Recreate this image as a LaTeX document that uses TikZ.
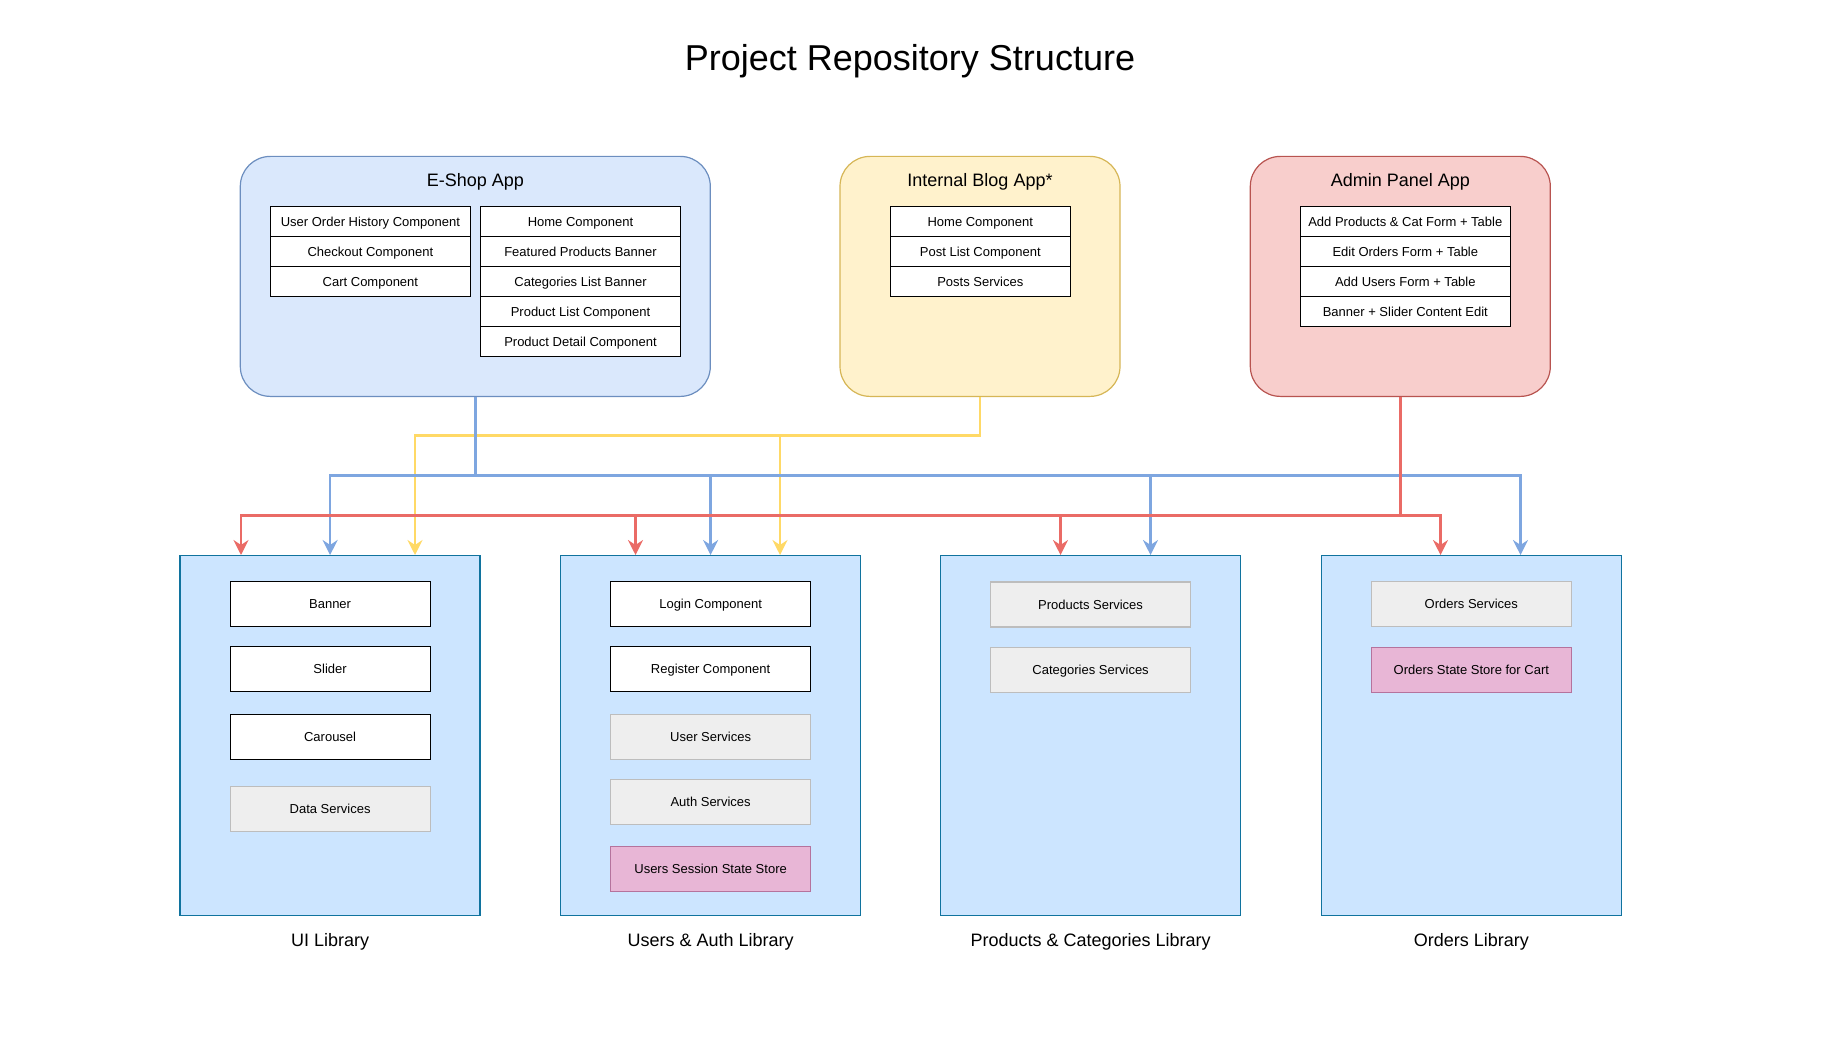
\documentclass[tikz,border=0pt]{standalone}
\usepackage{fontspec}
\setmainfont{Liberation Sans}
\usetikzlibrary{arrows.meta}
\begin{document}
\definecolor{eshopfill}{HTML}{DAE8FC}
\definecolor{eshopstroke}{HTML}{6C8EBF}
\definecolor{blogfill}{HTML}{FFF2CC}
\definecolor{blogstroke}{HTML}{D6B656}
\definecolor{adminfill}{HTML}{F8CECC}
\definecolor{adminstroke}{HTML}{B85450}
\definecolor{libfill}{HTML}{CCE5FF}
\definecolor{libstroke}{HTML}{10739E}
\definecolor{svcfill}{HTML}{EEEEEE}
\definecolor{svcstroke}{HTML}{BDBDBD}
\definecolor{storefill}{HTML}{E8B6D6}
\definecolor{storestroke}{HTML}{B5739D}
\definecolor{lineblue}{HTML}{7EA6E0}
\definecolor{lineyellow}{HTML}{FFD966}
\definecolor{linered}{HTML}{EA6B66}
\tikzset{
  appbox/.style={draw, line width=1.2pt, rounded corners=30pt, inner sep=0pt, minimum height=240pt},
  apptitle/.style={inner sep=0pt, font=\fontsize{18}{21}\selectfont},
  row/.style={draw=black, fill=white, line width=1.2pt, minimum height=30pt, inner sep=0pt, text height=10.6pt, text depth=1.5pt, font=\fontsize{13}{15}\selectfont},
  libbox/.style={draw=libstroke, fill=libfill, line width=1.4pt, minimum width=300pt, minimum height=360pt, inner sep=0pt},
  comp/.style={draw=black, fill=white, line width=1.1pt, minimum width=200pt, minimum height=45pt, inner sep=0pt, text height=10.6pt, text depth=1.5pt, font=\fontsize{13}{15}\selectfont},
  svc/.style={comp, draw=svcstroke, fill=svcfill},
  store/.style={comp, draw=storestroke, fill=storefill},
  liblabel/.style={inner sep=0pt, font=\fontsize{18}{21}\selectfont},
  conn/.style={line width=2.5pt, line join=miter, -{Stealth[length=15pt,width=15pt,inset=5pt]}},
}
\begin{tikzpicture}[x=1pt,y=-1pt]
\useasboundingbox (0,0) rectangle (1841,1043);
% title
\node[inner sep=0pt, font=\fontsize{36}{42}\selectfont] (title) at (910,61) {Project Repository Structure};

% app boxes
\node[appbox, draw=eshopstroke, fill=eshopfill, minimum width=470pt] (eshop) at (475.3,276.4) {};
\node[appbox, draw=blogstroke, fill=blogfill, minimum width=280pt] (blog) at (980,276.4) {};
\node[appbox, draw=adminstroke, fill=adminfill, minimum width=300pt] (admin) at (1400.3,276.4) {};
\node[apptitle] (eshopt) at (475.3,182.3) {E-Shop App};
\node[apptitle] (blogt) at (980,182.3) {Internal Blog App*};
\node[apptitle] (admint) at (1400.3,182.3) {Admin Panel App};

% E-Shop tables
\begin{scope}[row/.append style={minimum width=200.4pt}]
\node[row] (e1) at (370.4,221.7) {User Order History Component};
\node[row] (e2) at (370.4,251.7) {Checkout Component};
\node[row] (e3) at (370.4,281.7) {Cart Component};
\node[row] (f1) at (580.5,221.7) {Home Component};
\node[row] (f2) at (580.5,251.7) {Featured Products Banner};
\node[row] (f3) at (580.5,281.7) {Categories List Banner};
\node[row] (f4) at (580.5,311.7) {Product List Component};
\node[row] (f5) at (580.5,341.7) {Product Detail Component};
\end{scope}
% Blog table
\begin{scope}[row/.append style={minimum width=180pt}]
\node[row] (b1) at (980.3,221.7) {Home Component};
\node[row] (b2) at (980.3,251.7) {Post List Component};
\node[row] (b3) at (980.3,281.7) {Posts Services};
\end{scope}
% Admin table
\begin{scope}[row/.append style={minimum width=210pt}]
\node[row] (a1) at (1405.3,221.7) {Add Products \& Cat Form + Table};
\node[row] (a2) at (1405.3,251.7) {Edit Orders Form + Table};
\node[row] (a3) at (1405.3,281.7) {Add Users Form + Table};
\node[row] (a4) at (1405.3,311.7) {Banner + Slider Content Edit};
\end{scope}

% libraries
\node[libbox] (uilib) at (330.1,735.7) {};
\node[libbox] (userlib) at (710.6,735.7) {};
\node[libbox] (prodlib) at (1090.6,735.7) {};
\node[libbox] (ordlib) at (1471.3,735.7) {};
\node[liblabel] (uilabel) at (330.1,942.3) {UI Library};
\node[liblabel] (userlabel) at (710.6,942.3) {Users \& Auth Library};
\node[liblabel] (prodlabel) at (1090.6,942.3) {Products \& Categories Library};
\node[liblabel] (ordlabel) at (1471.3,942.3) {Orders Library};

% UI library content
\node[comp] (banner) at (330.1,603.8) {Banner};
\node[comp] (slider) at (330.1,669.3) {Slider};
\node[comp] (carousel) at (330.1,737.3) {Carousel};
\node[svc] (datasvc) at (330.1,809.3) {Data Services};
% Users library content
\node[comp] (login) at (710.6,603.8) {Login Component};
\node[comp] (register) at (710.6,668.8) {Register Component};
\node[svc] (usersvc) at (710.6,736.8) {User Services};
\node[svc] (authsvc) at (710.6,802.3) {Auth Services};
\node[store] (session) at (710.6,868.8) {Users Session State Store};
% Products library content
\node[svc] (prodsvc) at (1090.6,604.5) {Products Services};
\node[svc] (catsvc) at (1090.6,670) {Categories Services};
% Orders library content
\node[svc] (ordsvc) at (1471.3,603.8) {Orders Services};
\node[store] (ordstore) at (1471.3,670) {Orders State Store for Cart};

% junction coordinates
\coordinate (y1) at (415,435.6);
\coordinate (y2) at (780,435.6);
\coordinate (bl1) at (330.1,475.5);
\coordinate (bl2) at (710.6,475.5);
\coordinate (bl3) at (1150.5,475.5);
\coordinate (bl4) at (1520.5,475.5);
\coordinate (r1) at (241,515.5);
\coordinate (r2) at (635.5,515.5);
\coordinate (r3) at (1060.5,515.5);
\coordinate (r4) at (1440.5,515.5);

% yellow connectors
\draw[conn, lineyellow] (blog.south) |- (y1) -- (uilib.north -| y1);
\draw[conn, lineyellow] (blog.south) |- (y2) -- (userlib.north -| y2);
% blue connectors
\draw[conn, lineblue] (eshop.south) |- (bl1) -- (uilib.north -| bl1);
\draw[conn, lineblue] (eshop.south) |- (bl2) -- (userlib.north -| bl2);
\draw[conn, lineblue] (eshop.south) |- (bl3) -- (prodlib.north -| bl3);
\draw[conn, lineblue] (eshop.south) |- (bl4) -- (ordlib.north -| bl4);
% red connectors
\draw[conn, linered] (admin.south) |- (r1) -- (uilib.north -| r1);
\draw[conn, linered] (admin.south) |- (r2) -- (userlib.north -| r2);
\draw[conn, linered] (admin.south) |- (r3) -- (prodlib.north -| r3);
\draw[conn, linered] (admin.south) |- (r4) -- (ordlib.north -| r4);
\end{tikzpicture}
\end{document}
